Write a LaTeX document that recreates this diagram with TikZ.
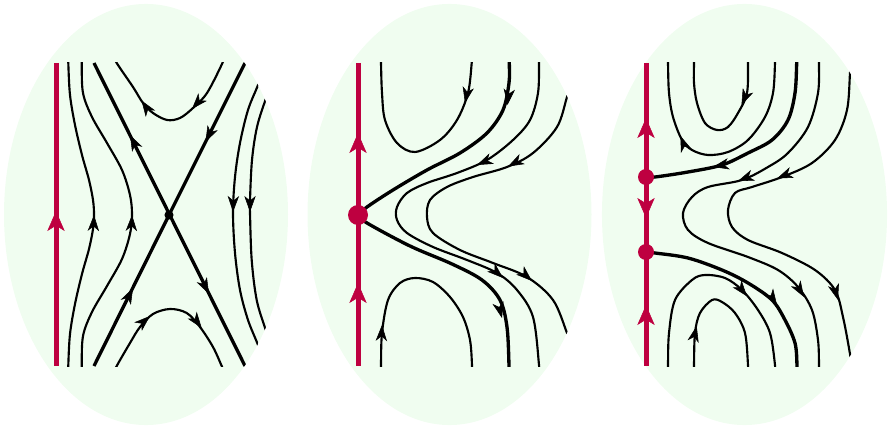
\documentclass[tikz,border=0pt]{standalone}
\usetikzlibrary{arrows.meta,decorations.markings}
\definecolor{crim}{RGB}{190,0,64}
\definecolor{bgreen}{RGB}{240,253,240}
\tikzset{
  flow/.style={line width=1.6pt, black},
  sepx/.style={line width=2.5pt, black},
  redline/.style={line width=3.75pt, crim},
  barr/.style={postaction={decorate,decoration={markings,mark=at position 1 with {\arrow{Stealth[length=12pt,width=8.5pt,inset=3.5pt]}}}}},
  rarr/.style={crim, postaction={decorate,decoration={markings,mark=at position 1 with {\arrow{Stealth[length=15pt,width=13pt,inset=4pt]}}}}},
  bg/.style={fill=bgreen},
  sm/.style={smooth, tension=0.55}
}
\newcommand\farrow[2]{\path[barr] #1 -- #2;}
\newcommand\rarrow[2]{\path[rarr] #1 -- #2;}
\begin{document}
\begin{tikzpicture}[x=0.75pt,y=-0.75pt]
\useasboundingbox (0,0) rectangle (889,428);
% backgrounds
\fill[bg] (146,214.5) ellipse [x radius=106.5pt, y radius=157.9pt];
\fill[bg] (449.5,214.5) ellipse [x radius=106.5pt, y radius=157.9pt];
\fill[bg] (744.5,214.5) ellipse [x radius=106.9pt, y radius=157.9pt];

% ================= Panel 1 =================
\begin{scope}
\clip (146,214.5) ellipse [x radius=106.5pt, y radius=157.9pt];
\clip (0,63) rectangle (889,366);
% left curves
\draw[flow] plot[sm] coordinates {(68.3,375) (68.3,365) (70,334) (75,304) (82,274) (89,249) (93,229) (94,214.5) (93,200) (89,180) (82,155) (75,125) (70,95) (68.3,63) (68.3,53)};
\draw[flow] plot[sm] coordinates {(81.7,375) (81.7,366) (83,336) (92,312) (107,286) (122,259) (130,234) (132,214.5) (130,195) (122,170) (107,143) (92,117) (83,93) (81.7,63) (81.7,53)};
% separatrices
\draw[sepx] (94,366) -- (169,215) -- (245,63);
\draw[sepx] (94,63) -- (245,366);
% upper / lower hyperbolas
\draw[flow] plot[sm] coordinates {(226,53) (222,64) (207,93) (193,108) (180,118) (167,120) (153,113) (143,103) (133,87) (116.7,63) (112,53)};
\draw[flow] plot[sm] coordinates {(112,376) (116.7,366) (130,343) (140,327) (153,314) (170,309) (186.7,313) (200,327) (213,347) (221.7,366) (226,376)};
% right curves
\draw[flow] plot[sm] coordinates {(266,62) (258,85) (248,110) (240,143) (235,177) (233,213) (235,253) (240,290) (248,320) (258,345) (266,368)};
\draw[flow] plot[sm] coordinates {(276,68) (265.7,99) (257,127) (252,160) (250,200) (250,213) (251.7,260) (256.7,300) (265.7,330) (276,362)};
\end{scope}
\fill (169,215) circle [radius=3.4pt];
\draw[redline] (56,63) -- (56,366);
\rarrow{(56,236)}{(56,211)}
% arrows panel 1
\farrow{(93.5,228)}{(94,215)}
\farrow{(131.5,228)}{(132,215)}
\farrow{(233.3,199)}{(233,212)}
\farrow{(250,199)}{(250,212)}
\farrow{(200,100)}{(192,109)}
\farrow{(148.3,110.5)}{(141.5,100.5)}
\farrow{(141,324)}{(150,316)}
\farrow{(195,319)}{(201.7,328)}
\farrow{(211,131)}{(205.5,142)}
\farrow{(127.6,298.7)}{(133,288)}
\farrow{(135.4,145.7)}{(130,135)}
\farrow{(203.6,283.3)}{(209,294)}

% ================= Panel 2 =================
\begin{scope}
\clip (449.5,214.5) ellipse [x radius=106.5pt, y radius=157.9pt];
\clip (0,63) rectangle (889,366);
\draw[sepx] plot[sm] coordinates {(509.3,53) (509.3,63) (509,83) (503,110) (487,133) (460,153) (427,170) (393,190) (367,207) (358,215)};
\draw[sepx] plot[sm] coordinates {(358,215) (367,223) (410,246) (452,264) (482,280) (500,300) (507,327) (509,365) (509,375)};
\draw[flow] plot[sm] coordinates {(539,53) (539,63) (538,93) (530,120) (513,140) (487,160) (457,173) (427,183) (407,193) (397,207) (397,220) (407,233) (433,247) (467,260) (497,273) (517,290) (533,317) (539,365) (539,375)};
\draw[flow] plot[sm] coordinates {(578,60) (573,78) (567,97) (557,127) (533,153) (507,167) (473,177) (447,187) (430,200) (427,217) (433,233) (460,250) (493,263) (527,277) (553,300) (567,333) (573,350) (578,368)};
\draw[flow] plot[sm] coordinates {(472,53) (471.7,63) (468,93) (457,120) (440,140) (415,152) (397,143) (385,120) (382,93) (381,63) (381,53)};
\draw[flow] plot[sm] coordinates {(381,375) (381,365) (382,333) (388,300) (400,283) (415,278) (433,282) (450,297) (463,317) (470,340) (472,365) (472,375)};
\end{scope}
\draw[redline] (358,63) -- (358,366);
\rarrow{(358,158)}{(358,133)}
\rarrow{(358,308)}{(358,283)}
\fill[crim] (358,215) circle [radius=7.5pt];
\farrow{(509,92)}{(507.5,105)}
\farrow{(467.5,91)}{(465,103)}
\farrow{(499,306.4)}{(502,318)}
\farrow{(488,160.2)}{(477,165)}
\farrow{(494,270)}{(503,278)}
\farrow{(518.6,160.9)}{(508,166.5)}
\farrow{(523,273)}{(532,281)}
\farrow{(381.5,337)}{(382,325)}

% ================= Panel 3 =================
\begin{scope}
\clip (744.5,214.5) ellipse [x radius=106.9pt, y radius=157.9pt];
\clip (0,63) rectangle (889,366);
\draw[sepx] plot[sm] coordinates {(797,53) (796.7,63) (795,93) (788,120) (772,140) (748,153) (722,165) (688,172) (655,177) (646,177)};
\draw[sepx] plot[sm] coordinates {(646,252) (655,253) (688,258) (722,270) (748,283) (772,300) (785,320) (795,343) (797,365) (797,375)};
\draw[flow] plot[sm] coordinates {(775,53) (775,63) (773,93) (765,117) (748,140) (728,152) (708,155) (692,150) (682,140) (673,117) (669,93) (668,63) (668,53)};
\draw[flow] plot[sm] coordinates {(748,53) (748,63) (747,93) (738,113) (728,127) (717,130) (705,123) (697,103) (694,83) (694,63) (694,53)};
\draw[flow] plot[sm] coordinates {(819,53) (819,63) (818,93) (808,127) (788,153) (768,167) (742,180) (708,187) (692,197) (683,213) (688,230) (708,243) (748,257) (778,270) (798,287) (812,310) (818,340) (819,365) (819,375)};
\draw[flow] plot[sm] coordinates {(851,58) (850,73) (847,110) (835,140) (812,163) (782,177) (752,187) (735,193) (728,210) (732,227) (748,240) (782,253) (815,270) (835,290) (843,317) (850,354) (852,370)};
\draw[flow] plot[sm] coordinates {(668,375) (668,365) (669,333) (675,300) (692,280) (705,275) (725,278) (742,290) (758,310) (770,333) (775,365) (775,375)};
\draw[flow] plot[sm] coordinates {(694,375) (694,365) (695,333) (700,313) (712,300) (722,302) (735,313) (745,333) (748,365) (748,375)};
\end{scope}
\draw[redline] (646,63) -- (646,366);
\rarrow{(646,141)}{(646,118)}
\rarrow{(646,195)}{(646,218)}
\rarrow{(646,328)}{(646,305)}
\fill[crim] (646,177) circle [radius=6pt];
\fill[crim] (646,252) circle [radius=6pt];
\farrow{(724.8,164.6)}{(713,167)}
\farrow{(770.5,295)}{(777,305)}
\farrow{(684.8,147.2)}{(680.5,136)}
\farrow{(746.4,94)}{(741.5,105)}
\farrow{(749.2,176.7)}{(738,181)}
\farrow{(797.8,286.8)}{(804,297)}
\farrow{(788,174)}{(777,178.5)}
\farrow{(834.6,288.5)}{(838,300)}
\farrow{(739.6,287)}{(747,296.3)}
\farrow{(694,337.6)}{(696.7,326)}
\end{tikzpicture}
\end{document}
